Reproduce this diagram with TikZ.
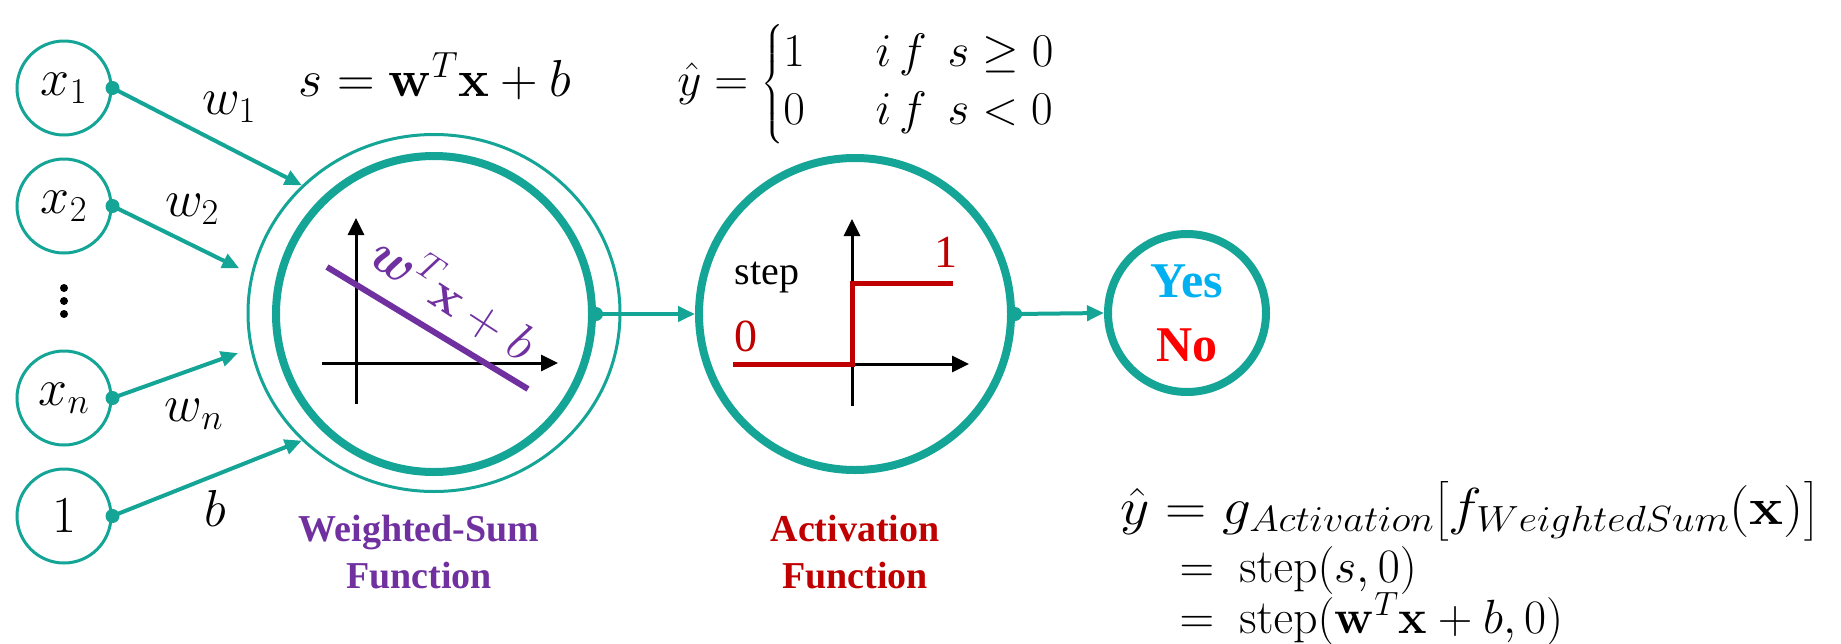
\RequirePackage{fix-cm}
\documentclass[tikz,border=0pt]{standalone}
\usepackage{amsmath}
\usepackage{graphicx}
\usepackage[no-math]{fontspec}
\setmainfont{Liberation Serif}
\usetikzlibrary{arrows.meta,shapes.geometric}
\definecolor{tealc}{RGB}{20,165,150}
\definecolor{purp}{RGB}{112,48,160}
\definecolor{dred}{RGB}{192,0,0}
\definecolor{cyanc}{RGB}{0,176,240}
\definecolor{redc}{RGB}{255,0,0}
\begin{document}
\begin{tikzpicture}[x=1pt,y=-1pt,
  incirc/.style={circle,draw=tealc,line width=3pt,minimum size=94pt,inner sep=0pt,font=\fontsize{52}{60}\selectfont},
  conn/.style={draw=tealc,line width=4pt,-{Triangle[length=17pt,width=15pt]}},
  axisarrow/.style={draw=black,line width=3pt,-{Triangle[length=17pt,width=16pt]}},
  lbl/.style={font=\fontsize{52}{60}\selectfont,inner sep=0pt},
  thickcirc/.style={circle,draw=tealc,line width=8pt,inner sep=0pt},
  boldlbl/.style={font=\fontsize{38}{47}\selectfont\bfseries,align=center,inner sep=0pt},
  eqn/.style={font=\fontsize{50}{60}\selectfont,inner sep=0pt}
]
\useasboundingbox (0,0) rectangle (1841,643);

% input nodes
\node[incirc] (x1) at (64,88) {$x_1$};
\node[incirc] (x2) at (64,206) {$x_2$};
\node[incirc] (xn) at (64,398) {$x_n$};
\node[incirc] (one) at (64,516) {$1$};
\fill (64,288) circle (4pt) (64,301) circle (4pt) (64,314) circle (4pt);

% weighted sum
\node[ellipse,draw=tealc,line width=3pt,minimum width=372pt,minimum height=357pt,inner sep=0pt] (wso) at (434,313) {};
\node[thickcirc,minimum size=316pt] (wsi) at (434,314) {};

% activation and output
\node[thickcirc,minimum size=312pt] (act) at (855,314) {};
\node[thickcirc,minimum size=158pt,font=\fontsize{50}{64}\selectfont\bfseries,align=center] (out) at (1187,313) {\textcolor{cyanc}{Yes}\\\textcolor{redc}{No}};

% connectors
\draw[conn] (x1.east) -- (wso.136);
\draw[conn,shorten >=13pt] (x2.east) -- (wso.168);
\draw[conn,shorten >=13pt] (xn.east) -- (wso.191);
\draw[conn] (one.east) -- (wso.224);
\draw[conn] (wsi.east) -- (act.west);
\draw[conn] (act.east) -- (out.west);
\foreach \n in {x1,x2,xn,one,wsi,act} \fill[tealc] (\n.east) circle (7pt);

% weight labels
\node[lbl] (lw1) at (229,107) {$w_1$};
\node[lbl] (lw2) at (192,209) {$w_2$};
\node[lbl] (lwn) at (194,414) {$w_n$};
\node[lbl] (lb) at (215,508) {$b$};

% weighted-sum plot
\draw[axisarrow] (356,404) -- (356,218);
\draw[axisarrow] (322,363) -- (558,363);
\draw[purp,line width=6pt] (327,267) -- (528,389);
\node[eqn,font=\fontsize{52}{60}\selectfont,rotate=-33,text=purp] (wlab) at (455,296) {$\boldsymbol{w}^{T}\mathbf{x}+b$};

% activation plot
\draw[axisarrow] (852,406) -- (852,219);
\draw[axisarrow] (852,364) -- (969,364);
\draw[dred,line width=5pt] (733,364) -- (852,364) -- (852,283) -- (953,283);
\node[font=\fontsize{46}{55}\selectfont,text=dred,inner sep=0pt] (z0) at (746,336) {0};
\node[font=\fontsize{46}{55}\selectfont,text=dred,inner sep=0pt] (z1) at (946,252) {1};
\node[font=\fontsize{40}{48}\selectfont,inner sep=0pt] (steplbl) at (767,277) {step};

% captions
\node[boldlbl,text=purp] (wscap) at (419,552) {Weighted-Sum\\Function};
\node[boldlbl,text=dred] (actcap) at (855,552) {Activation\\Function};

% equations
\node[eqn,font=\fontsize{52}{60}\selectfont] (seq) at (435,76) {$s = \mathbf{w}^{T}\mathbf{x} + b$};
\node[eqn,font=\fontsize{47}{48}\selectfont] (yeq) at (866,84) {$\hat{y} = \begin{cases} 1 &\ \ i\,f\;\, s \geq 0\\ 0 &\ \ i\,f\;\, s < 0\end{cases}$};
\node[eqn,font=\fontsize{52}{60}\selectfont,anchor=base west] (e1) at (1120,524) {\scalebox{1.1}[1]{$\hat{y} = g_{Activation}\bigl[f_{WeightedSum}(\mathbf{x})\bigr]$}};
\node[eqn,font=\fontsize{48}{58}\selectfont,anchor=base west] (e2) at (1166,582) {${}=\ \mathrm{step}(s,0)$};
\node[eqn,font=\fontsize{48}{58}\selectfont,anchor=base west] (e3) at (1166,633) {${}=\ \mathrm{step}(\mathbf{w}^{T}\mathbf{x}+b,0)$};
\end{tikzpicture}
\end{document}
